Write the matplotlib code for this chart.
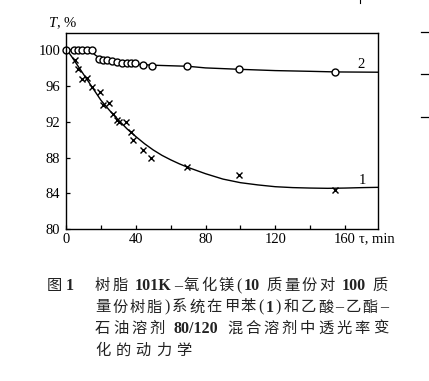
import matplotlib
matplotlib.use("Agg")
import matplotlib.pyplot as plt
from matplotlib.transforms import IdentityTransform
from matplotlib.lines import Line2D
import re

# ---------------- data ----------------
# measured points, curve 1 (crosses)
x1_pts = [5, 6.7, 9, 12.2, 14.7, 19.5, 21.4, 24.5, 26.8, 29, 30.6, 34.4, 37.3, 38.6, 44, 48.7, 69.2, 99.4, 154.2]
y1_pts = [98.9, 97.9, 96.8, 96.9, 95.9, 95.3, 93.9, 94.05, 92.9, 92.2, 92.0, 92.0, 90.9, 90.0, 88.8, 88.0, 87.0, 86.05, 84.35]

# measured points, curve 2 (circles)
x2_pts = [0, 4.6, 7.1, 9.0, 11.9, 15.1, 18.9, 21.4, 23.3, 26.2, 29, 31.9, 34.8, 37.1, 39.6, 44, 49.1, 69.2, 99.4, 154.2]
y2_pts = [100, 100, 100.05, 100.05, 100.05, 99.95, 98.95, 98.9, 98.9, 98.75, 98.65, 98.55, 98.5, 98.5, 98.55, 98.3, 98.25, 98.2, 97.85, 97.5]

# fitted curves
x1_fit = [2, 3.3, 5, 10, 15, 20, 25, 30, 35, 40, 45, 50, 55, 60, 65, 70, 80, 90, 100, 110, 120, 130, 140, 150, 160, 170, 179]
y1_fit = [99.6, 99.25, 98.75, 97.3, 95.85, 94.4, 93.25, 92.2, 91.2, 90.35, 89.55, 88.85, 88.25, 87.75, 87.3, 86.9, 86.2, 85.6, 85.2, 84.95, 84.75, 84.65, 84.6, 84.57, 84.6, 84.65, 84.68]

x2_fit = [0, 5, 10, 13, 15, 17, 20, 25, 30, 35, 40, 50, 60, 70, 80, 100, 120, 140, 155, 179]
y2_fit = [100, 100, 100, 99.95, 99.75, 99.4, 99.05, 98.8, 98.62, 98.5, 98.42, 98.3, 98.24, 98.18, 98.0, 97.84, 97.7, 97.62, 97.55, 97.52]

x_major = [0, 40, 80, 120, 160]
x_minor = [20, 60, 100, 140]
y_ticks = [80, 84, 88, 92, 96, 100]

curve_labels = ["1", "2"]

caption_head = ["图", "1"]
caption_lines = [
    "树脂 101K-氧化镁(10 质量份对 100 质",
    "量份树脂)系统在甲苯(1)和乙酸-乙酯-",
    "石油溶剂 80/120 混合溶剂中透光率变",
    "化的动力学",
]

# ---------------- figure ----------------
W, H = 429, 381
plt.rcParams['font.family'] = ['Liberation Serif', 'DejaVu Serif']
plt.rcParams['mathtext.fontset'] = 'custom'
plt.rcParams['mathtext.rm'] = 'Liberation Serif'
plt.rcParams['mathtext.it'] = 'Liberation Serif:italic'

fig = plt.figure(figsize=(W / 100, H / 100), dpi=100)
fig.patch.set_facecolor('white')

left, right = 66 / W, 377.7 / W
top, bottom = 1 - 33.3 / H, 1 - 229.3 / H
ax = fig.add_axes([left, bottom, right - left, top - bottom])
ax.set_xlim(0, 178.7)
ax.set_ylim(80, 101.86)

ax.plot(x1_fit, y1_fit, color='black', lw=1.0)
ax.plot(x2_fit, y2_fit, color='black', lw=1.0)
ax.plot(x1_pts, y1_pts, ls='none', marker='x', ms=4, mew=1.0, color='black')
ax.plot(x2_pts, y2_pts, ls='none', marker='o', ms=5, mew=1.0, mfc='white', mec='black', clip_on=False)

ax.set_xticks(x_major)
ax.set_xticks(x_minor, minor=True)
ax.set_yticks(y_ticks)
ax.tick_params(axis='both', which='both', direction='in', length=3.2, width=0.9,
               labelsize=10.5, top=False, right=False)
ax.tick_params(axis='x', pad=2.5)
ax.tick_params(axis='y', pad=4)
for s in ax.spines.values():
    s.set_linewidth(1.0)

ax.text(170, 85.42, curve_labels[0], fontsize=10.5, ha='center', va='center')
ax.text(169, 98.33, curve_labels[1], fontsize=10.5, ha='center', va='center')

# axis titles
fig.text(48 / W, 1 - 23 / H, "$T$, %", fontsize=10.5, ha='left', va='center')
fig.text(359 / W, 1 - 238.5 / H, "τ, min", fontsize=10.5, ha='left', va='center')

# stray marks from neighbouring column at right edge
for yy in [32, 74, 117]:
    fig.add_artist(Line2D([421 / W, 429 / W], [1 - yy / H, 1 - yy / H], color='black', lw=0.9))
fig.add_artist(Line2D([360 / W, 360 / W], [1, 1 - 3 / H], color='black', lw=0.8))

# ---------------- caption ----------------
cjk_props = dict(family=['Noto Sans CJK SC', 'DejaVu Sans'], fontsize=11, color='#222222')
num_props = dict(family=['Liberation Serif'], fontsize=11.5, weight='bold', color='#222222')
punc_props = dict(family=['Liberation Serif'], fontsize=11.5, color='#222222')

fig.canvas.draw()
renderer = fig.canvas.get_renderer()


def tokenize(s):
    toks = []
    for m in re.finditer(r"[0-9A-Za-z/]+|\s+|.", s):
        t = m.group(0)
        if t.isspace():
            toks.append((t, 'space'))
        elif re.match(r"[0-9A-Za-z/]+", t):
            toks.append((t, 'num'))
        elif t in "()-":
            toks.append((t, 'punc'))
        else:
            toks.append((t, 'cjk'))
    return toks


def place(tokens, x0, baseline, target_w=None, gap=4.0):
    arts = []
    widths = []
    for s, kind in tokens:
        if kind == 'space':
            arts.append(None)
            widths.append(3.0)
            continue
        props = {'cjk': cjk_props, 'num': num_props, 'punc': punc_props}[kind]
        t = fig.text(0, 0, s.replace('-', '\u2013') if kind == 'punc' and s == '-' else s,
                     transform=IdentityTransform(), ha='left', va='baseline', **props)
        widths.append(t.get_window_extent(renderer).width)
        arts.append(t)
    n_gaps = len(tokens) - 1
    if target_w is not None and n_gaps > 0:
        gap = (target_w - sum(widths)) / n_gaps
    x = x0
    for a, w in zip(arts, widths):
        if a is not None:
            a.set_position((x, H - baseline))
        x += w + gap


place([(caption_head[0], 'cjk'), (caption_head[1], 'num')], 46.7, 290, target_w=27)
baselines = [290, 311.5, 333, 355]
for i, line in enumerate(caption_lines):
    toks = tokenize(line)
    tw = 293 if i < 3 else None
    place(toks, 95, baselines[i], target_w=tw, gap=5.0)

fig.savefig("out.png", dpi=100, facecolor='white')
